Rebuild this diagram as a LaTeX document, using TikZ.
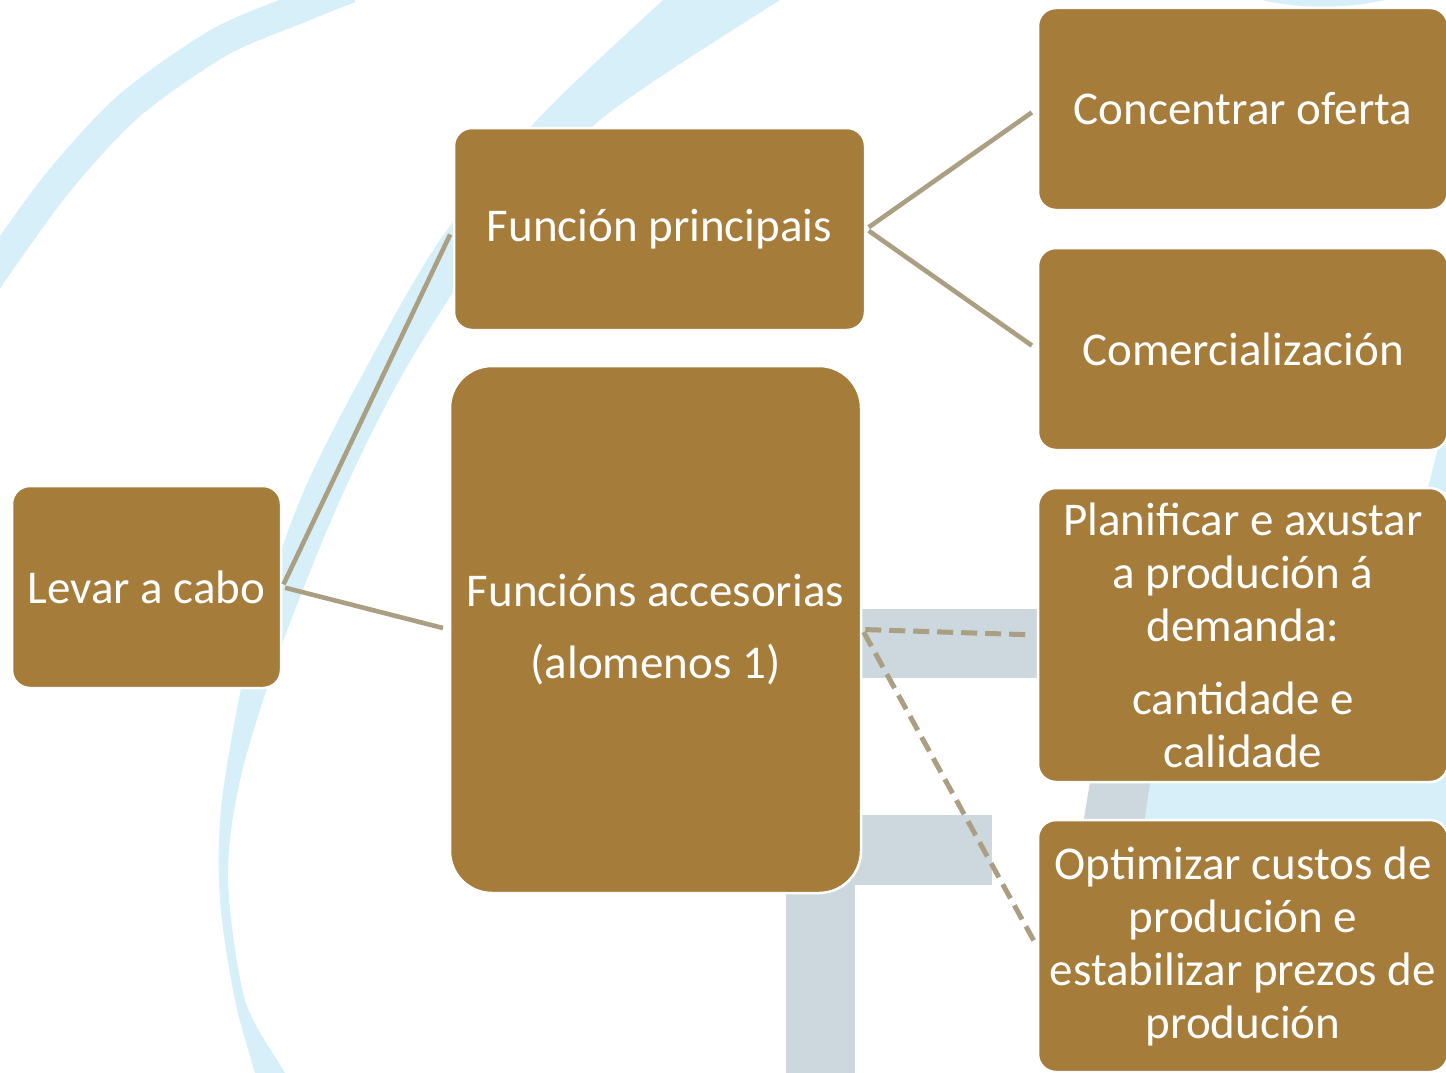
\documentclass[tikz,border=0pt]{standalone}
\usepackage{fontspec}
\setmainfont{Carlito}
\definecolor{boxfill}{RGB}{165,124,58}
\definecolor{conn}{RGB}{171,159,131}
\definecolor{wmblue}{RGB}{214,239,248}
\definecolor{wmgrey}{RGB}{204,215,222}
\begin{document}
\begin{tikzpicture}[x=1pt,y=-1pt,
  box/.style={draw=white, line width=2.5pt, fill=boxfill, rounded corners=18pt,
    text=white, align=center, inner sep=0pt,
    font=\fontsize{47}{53}\selectfont},
  link/.style={conn, line width=4.6pt, shorten <=3pt, shorten >=6pt},
  dlink/.style={link, line width=5pt, dash pattern=on 16pt off 8pt}]
\useasboundingbox (0,0) rectangle (1446,1073);
\fill[white] (0,0) rectangle (1446,1073);
% watermark
\draw[wmblue, line width=30pt] plot[smooth] coordinates {(-25,300) (0,262) (60,180) (130,105) (220,42) (300,8) (350,-12)};
\fill[wmblue] plot[smooth] coordinates {(700,-33) (663,0) (537,120) (440,240) (365,370) (300,500) (250,650) (222,800) (220,900) (235,1000) (255,1073) (265,1110)}
  -- plot[smooth] coordinates {(305,1110) (285,1073) (245,1000) (228,880) (240,780) (280,650) (340,500) (405,370) (490,240) (600,120) (780,0) (835,-33)} -- cycle;
\fill[wmgrey] (840,609) rectangle (1040,678);
\fill[wmgrey] (780,815) rectangle (992,885);
\fill[wmgrey] (786,815) rectangle (855,1073);
\fill[wmblue] (1150,770) -- (1446,770) -- (1446,830) -- (1143,830) -- cycle;
\fill[wmgrey] (1092,770) -- (1152,770) -- (1143,830) -- (1082,830) -- cycle;
\fill[wmblue] (1440,440) -- (1446,440) -- (1446,492) -- (1427,492) -- cycle;
\fill[wmblue] (1262,0) .. controls (1300,9) and (1345,9) .. (1385,0) -- cycle;
% boxes
\node[box, minimum width=269pt, minimum height=202pt] (levar) at (146.5,587) {Levar a cabo};
\node[box, minimum width=411pt, minimum height=202pt] (fp) at (659.5,229) {Función principais};
\node[box, minimum width=411pt, minimum height=527pt, rounded corners=42pt] (fa) at (655.5,629.5) {Funcións accesorias\\[19pt](alomenos 1)};
\node[box, minimum width=410pt, minimum height=202pt] (co) at (1243,109) {Concentrar oferta};
\node[box, minimum width=410pt, minimum height=202pt] (cm) at (1243,349) {Comercialización};
\node[box, minimum width=410pt, minimum height=294pt] (pl) at (1243,635) {Planificar e axustar\\a produción á\\demanda:\\[20pt]cantidade e\\calidade};
\node[box, minimum width=410pt, minimum height=252pt] (op) at (1243,946) {Optimizar custos de\\produción e\\estabilizar prezos de\\produción};
% connectors
\draw[link] (levar.east) -- (fp.west);
\draw[link] (levar.east) -- (fa.west);
\draw[link] (fp.east) -- (co.west);
\draw[link] (fp.east) -- (cm.west);
\draw[dlink] (fa.east) -- (pl.west);
\draw[dlink] (fa.east) -- (op.west);
\end{tikzpicture}
\end{document}
